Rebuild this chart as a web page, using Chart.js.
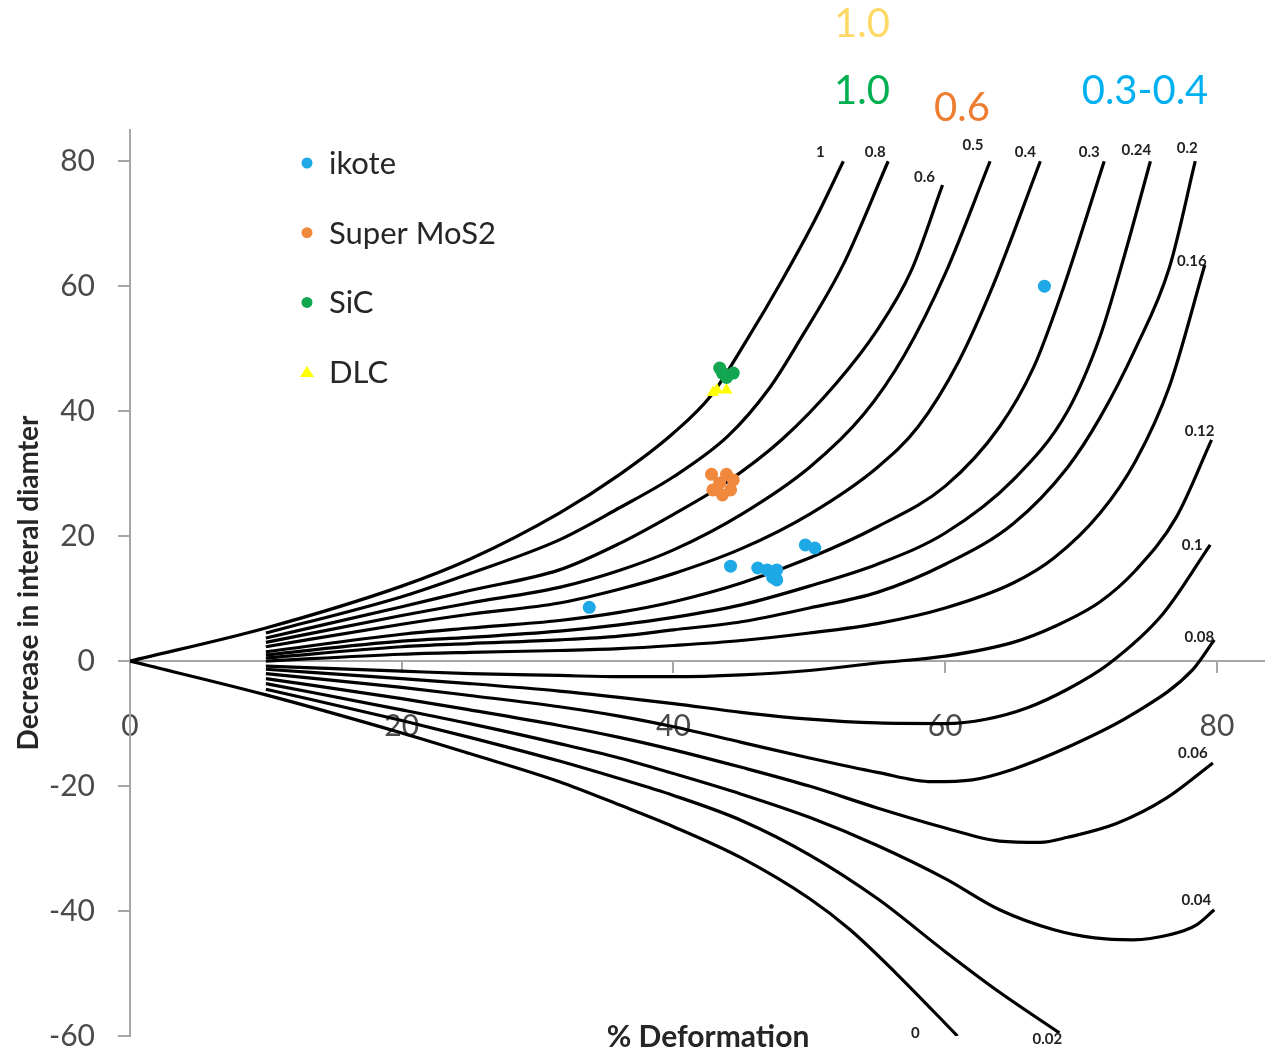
<!DOCTYPE html>
<html lang="en">
  <head>
    <meta charset="utf-8">
    <title>Ring compression friction calibration</title>
    <style> body {padding: 0; margin: 0; background: #fff; overflow: hidden;} </style>
    <script src="https://cdn.jsdelivr.net/npm/chart.js@4.4.0/dist/chart.umd.min.js"></script>
  </head>
  <body>
    <canvas id="ringChart" width="1271" height="1052"></canvas>
    <script>

      // calibration curves, one per friction factor: [% deformation, decrease in ID]
      var mu_1 = [[0,0],[10,5.3],[20,12],[25,16.3],[31.6,23.7],[36,29.8],[40,36.5],[42.8,42.6],[45.4,51.4],[48,61],[50.5,71],[52.5,80]];
      var mu_08 = [[10,4.5],[20,10.3],[25,14],[31.6,19.4],[36,24.5],[40,29.5],[44,36],[47,43.5],[49.3,51.4],[52.5,63.5],[55.8,80]];
      var mu_06 = [[10,3.7],[20,8.7],[25,11.3],[31.6,14.6],[36,18.8],[40,23.5],[43.7,28.3],[48,35.5],[52,44.5],[55,53],[57.5,62.5],[59.8,76.2]];
      var mu_05 = [[10,3.0],[20,7.3],[25,9.3],[31.6,11.8],[36,14.5],[40,17.8],[45,23.5],[50,31],[54,39.5],[57,49],[60,62],[63.3,80]];
      var mu_04 = [[10,2.3],[20,5.9],[25,7.5],[31.6,9.3],[36,11.5],[40,14],[45,18],[50,23.5],[55,31],[58,37.5],[61,48],[63.5,60],[67,80]];
      var mu_03 = [[10,1.5],[20,4.3],[25,5.3],[31.6,6.5],[36,7.8],[40,9.5],[45,12.5],[50,16.5],[55,21.5],[60,28],[64,37.5],[66.5,47],[68.5,58.5],[71.7,80]];
      var mu_024 = [[10,1.0],[20,3.2],[25,3.8],[31.6,4.8],[36,5.8],[40,7],[45,9],[50,12],[55,15.5],[60,20.5],[65,29],[69,40],[71.4,52],[73.2,65],[75.1,80]];
      var mu_02 = [[10,0.5],[20,2.3],[25,2.8],[31.6,3.4],[36,4],[40,5],[45,6.3],[50,8.5],[55,11],[60,15.5],[65,22],[69,31],[71.4,39],[74,50],[76.5,63],[78.4,80]];
      var mu_016 = [[10,0],[20,1.1],[25,1.4],[31.6,1.7],[36,2],[40,2.5],[45,3.3],[50,4.5],[55,6],[60,8.5],[65,12.5],[68,16.5],[71.4,23.7],[74,32],[76.5,44],[79.1,63.4]];
      var mu_012 = [[10,-0.8],[20,-1.6],[25,-2],[31.6,-2.3],[36,-2.5],[40,-2.5],[45,-2.2],[50,-1.5],[55,-0.3],[60,0.8],[65,3],[68,5.5],[71.4,9.5],[74,14.5],[77,23],[79.6,35.4]];
      var mu_01 = [[10,-1.3],[20,-2.8],[25,-3.6],[31.6,-4.8],[36,-5.8],[40,-6.8],[45,-8.2],[50,-9.3],[55,-9.9],[60,-10],[63,-9.3],[66,-7.5],[69,-4.5],[72,-0.5],[76,7.5],[79.5,18.6]];
      var mu_008 = [[10,-2],[20,-4.2],[25,-5.5],[31.6,-7.3],[36,-8.8],[40,-10.5],[45,-13],[50,-15.5],[55,-17.8],[59,-19.3],[62,-19],[65,-17.3],[69,-13.8],[73.8,-8.5],[78.2,-1.4],[79.8,3.4]];
      var mu_006 = [[10,-2.8],[20,-6],[25,-7.8],[31.6,-10.3],[36,-12.2],[40,-14.2],[45,-17],[50,-20],[55,-23.5],[60,-26.7],[64,-28.8],[67,-29],[69,-28.2],[72.6,-26],[76.3,-21.9],[79.7,-16.3]];
      var mu_004 = [[10,-3.6],[20,-7.8],[25,-10],[31.6,-13.2],[36,-15.5],[40,-18],[45,-21.3],[50,-25],[55,-29.5],[60,-34.8],[64,-39.8],[68,-43],[71,-44.3],[73.8,-44.6],[76.5,-43.8],[78.5,-42.2],[79.8,-39.8]];
      var mu_002 = [[10,-4.5],[20,-9.5],[25,-12.2],[31.6,-16],[36,-18.8],[40,-21.5],[45,-25.5],[50,-31],[55,-38],[60,-46.5],[64,-53],[68.4,-59.5]];
      var mu_0 = [[0,0],[10,-5.4],[20,-11.5],[25,-14.8],[31.6,-19.3],[36,-23],[40,-26.5],[45,-31.5],[50,-38],[53,-43],[56.4,-50],[60.9,-60]];

      var curveLabels = ['1','0.8','0.6','0.5','0.4','0.3','0.24','0.2','0.16','0.12','0.1','0.08','0.06','0.04','0.02','0'];
      var curveData = [mu_1, mu_08, mu_06, mu_05, mu_04, mu_03, mu_024, mu_02, mu_016, mu_012, mu_01, mu_008, mu_006, mu_004, mu_002, mu_0];

      // measured rings
      var ikote = [[33.8,8.6],[44.2,15.2],[46.2,14.9],[46.9,14.6],[47.6,14.6],[47.3,13.4],[47.6,13.0],[49.7,18.6],[50.4,18.1],[67.3,60.0]];
      var superMoS2 = [[42.8,29.9],[43.9,29.9],[44.4,29.0],[43.4,28.5],[42.9,27.4],[44.2,27.4],[43.6,26.6]];
      var sic = [[43.4,46.9],[43.9,45.4],[44.4,46.1],[43.6,46.1]];
      var dlc = [[43.2,43.4],[43.9,43.4],[42.9,43.0]];

      var seriesNames = ['ikote', 'Super MoS2', 'SiC', 'DLC'];
      var seriesColors = ['#1ea8e6', '#f0883e', '#12a650', '#ffff00'];
      // friction factor read for each material
      var frictionNotes = ['0.3-0.4', '0.6', '1.0', '1.0'];
      var noteColors = ['#00b0f0', '#ed7d31', '#00b050', '#ffd966'];

      // offsets of the curve labels from the last point of each curve
      var labelOffsets = [[-23,-9],[-13,-9],[-18,-8],[-17,-16],[-15,-9],[-15,-9],[-14,-11],[-8,-13],[-13,-4],[-12,-9],[-18,0],[-15,-3],[-20,-10],[-18,-10],[-12,6],[-42,-3]];

      function toXY(pts) {
        return pts.map(function(p) { return {x: p[0], y: p[1]}; });
      }

      var datasets = [];
      [ikote, superMoS2, sic, dlc].forEach(function(pts, i) {
        datasets.push({
          label: seriesNames[i],
          data: toXY(pts),
          showLine: false,
          pointStyle: i == 3 ? 'triangle' : 'circle',
          pointRadius: i == 3 ? 7 : 6.5,
          backgroundColor: seriesColors[i],
          borderColor: seriesColors[i],
          borderWidth: 0
        });
      });
      curveData.forEach(function(pts, i) {
        datasets.push({
          label: curveLabels[i],
          data: toXY(pts),
          showLine: true,
          pointRadius: 0,
          borderColor: '#000',
          borderWidth: 3.2,
          cubicInterpolationMode: 'monotone'
        });
      });

      var textPlugin = {
        id: 'chartTexts',
        afterDraw: function(chart) {
          var ctx = chart.ctx;
          var xs = chart.scales.x, ys = chart.scales.y;
          ctx.save();

          // friction factor next to each curve end
          ctx.font = 'bold 15px Lato';
          ctx.fillStyle = '#222';
          ctx.textAlign = 'center';
          ctx.textBaseline = 'middle';
          curveData.forEach(function(pts, i) {
            var last = pts[pts.length - 1];
            var off = labelOffsets[i];
            ctx.fillText(curveLabels[i], xs.getPixelForValue(last[0]) + off[0], ys.getPixelForValue(last[1]) + off[1]);
          });

          // legend in the upper left of the plot
          ctx.font = '31px Lato';
          ctx.textAlign = 'left';
          seriesNames.forEach(function(name, i) {
            var y = 163 + i * 69.7;
            ctx.fillStyle = seriesColors[i];
            ctx.beginPath();
            if (i == 3) {
              ctx.moveTo(307, y - 6); ctx.lineTo(314, y + 5); ctx.lineTo(300, y + 5);
            } else {
              ctx.arc(307, y, 5.5, 0, Math.PI * 2);
            }
            ctx.fill();
            ctx.fillStyle = '#262626';
            ctx.fillText(name, 329, y + 1);
          });

          // material friction notes above the plot
          ctx.font = '40px Lato';
          ctx.textAlign = 'center';
          var notePos = [[1145, 91], [962, 108], [862, 91], [862, 24]];
          frictionNotes.forEach(function(txt, i) {
            ctx.fillStyle = noteColors[i];
            ctx.fillText(txt, notePos[i][0], notePos[i][1]);
          });

          // x axis title sits at the bottom edge
          ctx.font = 'bold 30px Lato';
          ctx.fillStyle = '#262626';
          ctx.fillText('% Deformation', 708, 1037);
          ctx.restore();
        }
      };

      // keep tick label overhang from shrinking the plot area
      function noOverhang(scale) {
        scale.paddingTop = 0;
        scale.paddingBottom = 0;
        scale.paddingLeft = 0;
        scale.paddingRight = 0;
      }

      var ctx = document.getElementById('ringChart').getContext('2d');
      var ringChart = new Chart(ctx, {
        type: 'scatter',
        data: {datasets: datasets},
        plugins: [textPlugin],
        options: {
          responsive: false,
          animation: false,
          layout: {padding: {top: 130, bottom: 16, right: 0, left: 0}},
          plugins: {legend: {display: false}, tooltip: {enabled: false}},
          scales: {
            x: {
              type: 'linear',
              position: {y: 0},
              min: 0, max: 83.46,
              afterFit: function(scale) { scale.height = 0; noOverhang(scale); },
              ticks: {stepSize: 20, includeBounds: false, font: {family: 'Lato', size: 30, lineHeight: 1}, color: '#4a4a4a', padding: 39},
              grid: {drawOnChartArea: false, tickLength: 11, color: '#a6a6a6', lineWidth: 2},
              border: {color: '#a6a6a6', width: 2}
            },
            y: {
              type: 'linear',
              position: 'left',
              min: -60, max: 85,
              afterFit: function(scale) { scale.width = 130; noOverhang(scale); },
              ticks: {stepSize: 20, includeBounds: false, font: {family: 'Lato', size: 30, lineHeight: 1}, color: '#4a4a4a', padding: 23},
              grid: {drawOnChartArea: false, tickLength: 12, color: '#a6a6a6', lineWidth: 2},
              border: {color: '#a6a6a6', width: 2},
              title: {display: true, text: 'Decrease in interal diamter', font: {family: 'Lato', size: 28, weight: 'bold'}, color: '#262626', padding: {top: 12, bottom: 0}}
            }
          }
        }
      });
    </script>
  </body>
</html>
